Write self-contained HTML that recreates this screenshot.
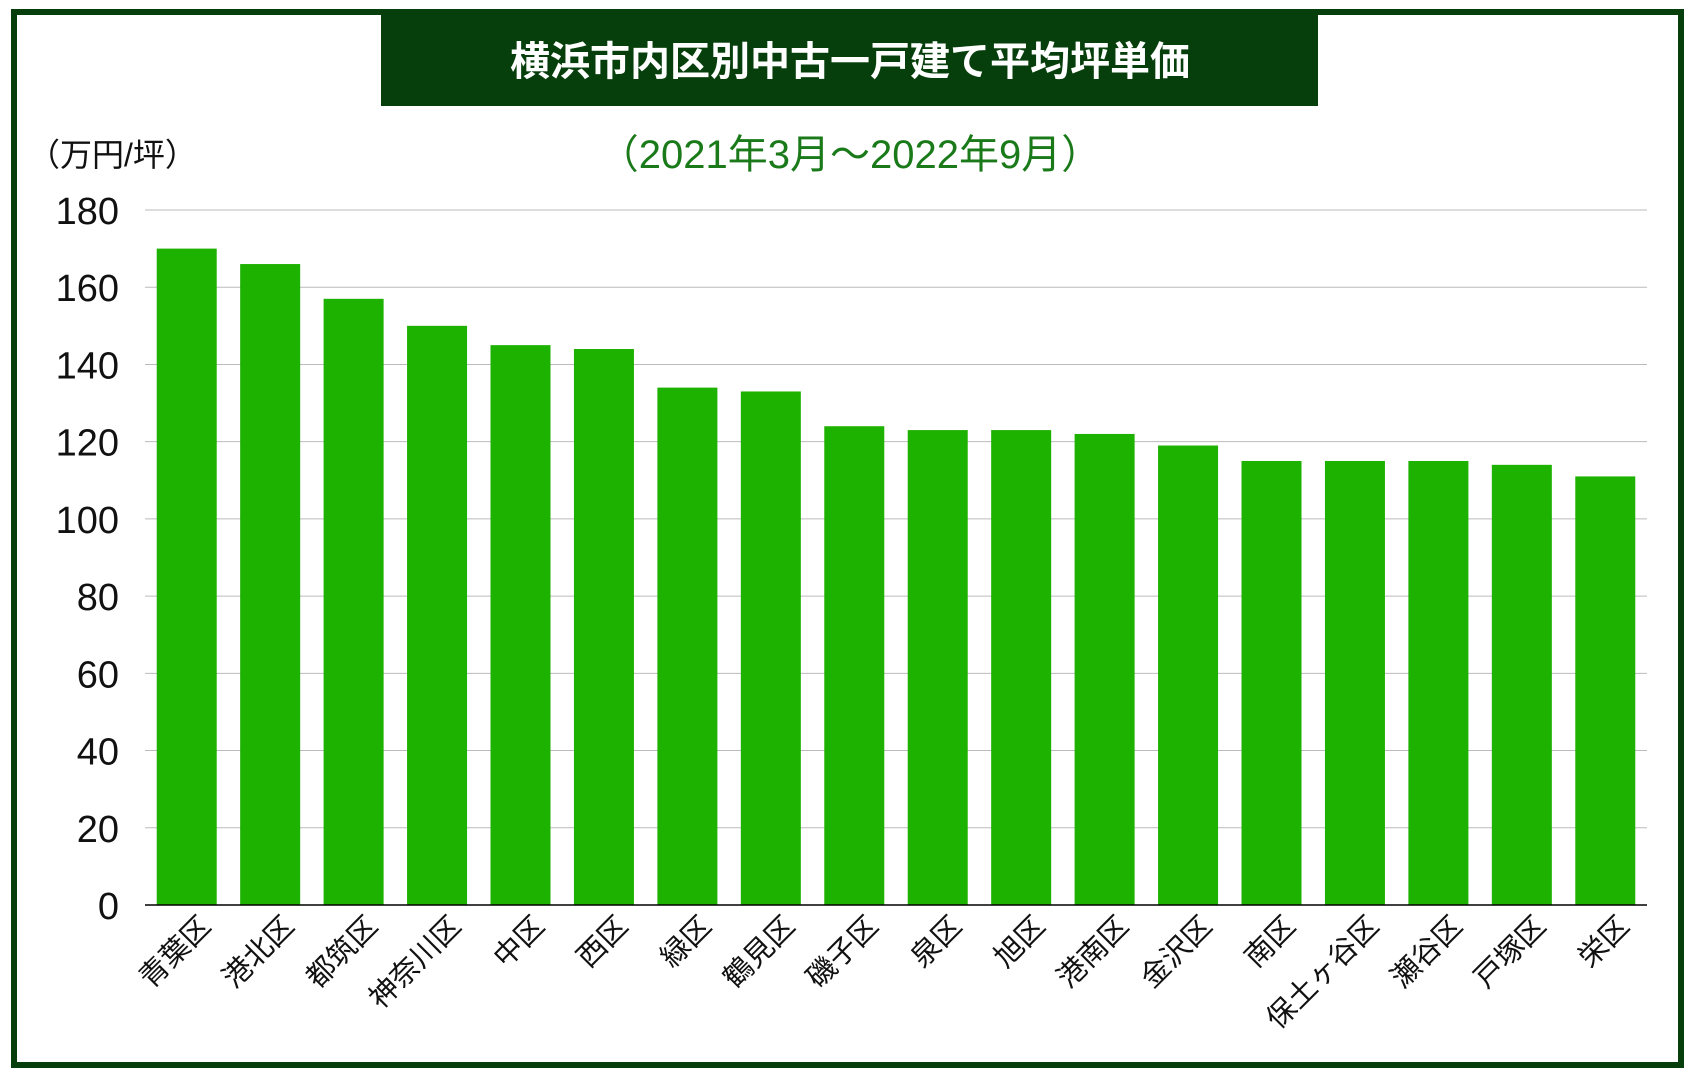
<!DOCTYPE html>
<html><head><meta charset="utf-8"><style>
body{margin:0;width:1697px;height:1080px;background:#fff;overflow:hidden;font-family:"Liberation Sans","Noto Sans CJK JP",sans-serif}
</style></head><body>
<svg width="1697" height="1080" xmlns="http://www.w3.org/2000/svg" style="font-family:'Liberation Sans','Noto Sans CJK JP',sans-serif">
<rect x="14" y="12" width="1667" height="1053" fill="#fff" stroke="#063f0b" stroke-width="6"/>
<rect x="381" y="14" width="937" height="92" fill="#063f0b"/>
<text x="850" y="75" text-anchor="middle" font-size="40" font-weight="bold" fill="#fff">横浜市内区別中古一戸建て平均坪単価</text>
<text x="850" y="168" text-anchor="middle" font-size="40" fill="#1a7a1a">（2021年3月～2022年9月）</text>
<text x="28" y="166" font-size="32" fill="#111">（万円/坪）</text>
<g id="grid"></g><g id="bars"></g><g id="labels"></g>
<line x1="145" y1="905" x2="1647" y2="905" stroke="#000" stroke-width="1.5"/>
</svg>
<script>
const categories=["青葉区","港北区","都筑区","神奈川区","中区","西区","緑区","鶴見区","磯子区","泉区","旭区","港南区","金沢区","南区","保土ヶ谷区","瀬谷区","戸塚区","栄区"];
const values=[170,166,157,150,145,144,134,133,124,123,123,122,119,115,115,115,114,111];
const ticks=[0,20,40,60,80,100,120,140,160,180];
const NS="http://www.w3.org/2000/svg";
const x0=145,x1=1647,yBase=905,yTop=210,yMax=180;
const y=v=>yBase-(v/yMax)*(yBase-yTop);
const step=(x1-x0)/categories.length,bw=60;
const xc=i=>x0+step*(i+0.5);
function mk(t,a,p){const e=document.createElementNS(NS,t);for(const k in a)e.setAttribute(k,a[k]);p.appendChild(e);return e;}
const g=document.getElementById('grid'),b=document.getElementById('bars'),l=document.getElementById('labels');
ticks.forEach(t=>{
 if(t>0){const ln=mk('line',{x1:x0,x2:x1,y1:y(t),y2:y(t),stroke:'#bbb','stroke-width':1},g);
 
 }
 const tx=mk('text',{x:119,y:y(t)+14,'text-anchor':'end','font-size':38,fill:'#111'},g);
 tx.textContent=t;
 
 
});
categories.forEach((c,i)=>{
 const r=mk('rect',{x:xc(i)-bw/2,y:y(values[i]),width:bw,height:yBase-y(values[i]),fill:'#1db100'},b);
 
 
 const ax=xc(i)+26,ay=928;
 const t=mk('text',{x:ax,y:ay,'text-anchor':'end','font-size':29,fill:'#111',transform:`rotate(-45 ${ax} ${ay})`},l);
 t.textContent=c;
 
 
});
</script>
</body></html>
